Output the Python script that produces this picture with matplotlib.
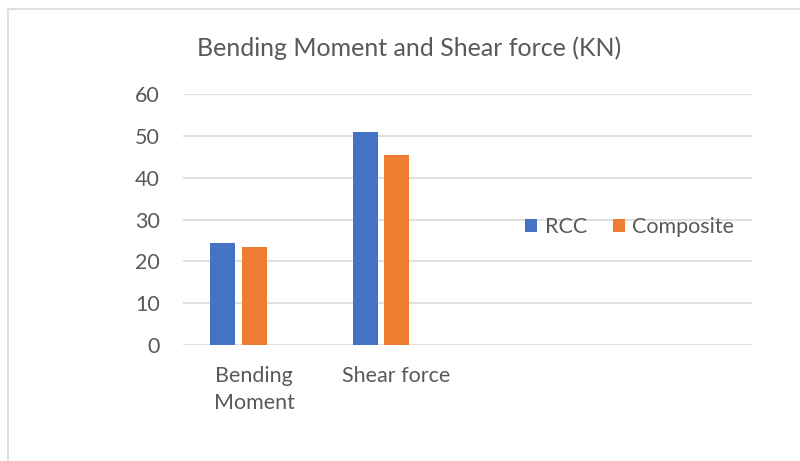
import numpy as np
import matplotlib.pyplot as plt
from matplotlib.patches import Rectangle

categories = ["Bending\nMoment", "Shear force", "", ""]
rcc = [24.4, 51.0, np.nan, np.nan]
composite = [23.4, 45.4, np.nan, np.nan]

plt.rcParams['font.family'] = ['Lato', 'DejaVu Sans']
txt = "#595959"

fig = plt.figure(figsize=(8, 4.61), dpi=100)
ax = fig.add_axes([0.22875, 0.2516, 0.71125, 0.5445])

# chart area frame
fig.patches.append(Rectangle((8 / 800, -0.1), 1.2, 1 - 9 / 461 + 0.1,
                             transform=fig.transFigure, fill=False,
                             edgecolor="#d9d9d9", linewidth=1.2))

x = np.arange(len(categories))
w = 0.176
ax.bar(x - 0.22, rcc, w, color="#4472c4", label="RCC", zorder=3)
ax.bar(x, composite, w, color="#ed7d31", label="Composite", zorder=3)

ax.set_xlim(-0.5, 3.5)
ax.set_ylim(0, 60)
ax.set_yticks(range(0, 61, 10))
ax.set_xticks(x)
ax.set_xticklabels(categories, linespacing=1.45)
ax.grid(axis="y", color="#d9d9d9", linewidth=1.2, zorder=0)
for s in ax.spines.values():
    s.set_visible(False)
ax.tick_params(length=0, labelsize=15.5, labelcolor=txt)
ax.tick_params(axis="y", pad=16.5)
ax.tick_params(axis="x", pad=15)

ax.set_title("Bending Moment and Shear force (KN)", fontsize=18,
             color=txt, pad=27, x=0.397)

leg = ax.legend(loc="center", bbox_to_anchor=(0.785, 0.47), ncol=2,
                frameon=False, fontsize=15.5, handlelength=0.55,
                handleheight=0.55, columnspacing=1.2, handletextpad=0.35)
for t in leg.get_texts():
    t.set_color(txt)

fig.savefig("out.png", dpi=100)
